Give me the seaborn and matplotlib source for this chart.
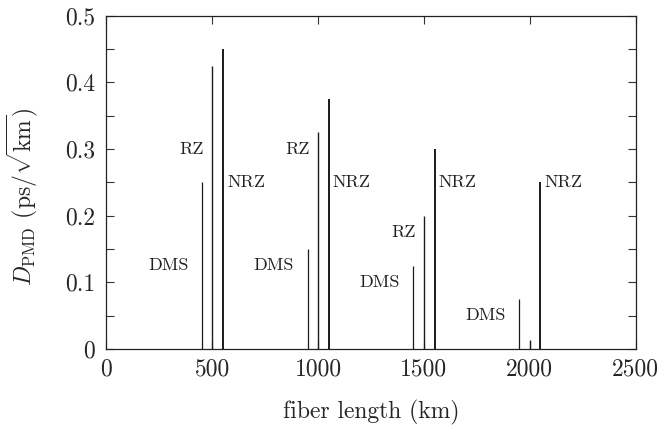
import numpy as np
import pandas as pd
import matplotlib
matplotlib.use("Agg")
import matplotlib.pyplot as plt
from matplotlib.ticker import MultipleLocator, FuncFormatter
import seaborn as sns

# PMD values
lengths = [450, 500, 550, 950, 1000, 1050, 1450, 1500, 1550, 1950, 2000, 2050]
formats = ["DMS", "RZ", "NRZ"] * 4
d_pmd = [0.25, 0.425, 0.45, 0.15, 0.325, 0.375, 0.125, 0.2, 0.3, 0.075, 0.013, 0.25]

# text labels next to the lines
label_x = [388, 462, 572, 887, 962, 1070, 1387, 1463, 1569, 1884, 2070]
label_y = [0.125, 0.3, 0.25, 0.125, 0.3, 0.25, 0.1, 0.175, 0.25, 0.05, 0.25]
label_txt = ["DMS", "RZ", "NRZ", "DMS", "RZ", "NRZ", "DMS", "RZ", "NRZ", "DMS", "NRZ"]

data = pd.DataFrame({"length": lengths, "format": formats, "dpmd": d_pmd})

sns.set_style("ticks")
plt.rcParams["font.family"] = ["cmr10", "DejaVu Serif"]
plt.rcParams["mathtext.fontset"] = "cm"
plt.rcParams["axes.unicode_minus"] = False

fig = plt.figure(figsize=(6.62, 4.34), dpi=100)
ax = fig.add_axes([0.1607, 0.196, 0.7996, 0.768])

widths = {"DMS": 0.9, "RZ": 1.0, "NRZ": 1.4}
for fmt, grp in data.groupby("format"):
    ax.vlines(grp["length"], 0, grp["dpmd"], colors="#1a1a1a", lw=widths[fmt])

for x, y, t in zip(label_x, label_y, label_txt):
    ha = "left" if t == "NRZ" else "right"
    ax.text(x, y, t, ha=ha, va="center", fontsize=13, color="#222222")

ax.set_xlim(0, 2500)
ax.set_ylim(0, 0.5)
ax.xaxis.set_major_locator(MultipleLocator(500))
ax.yaxis.set_major_locator(MultipleLocator(0.1))
ax.yaxis.set_minor_locator(MultipleLocator(0.05))
ax.yaxis.set_major_formatter(FuncFormatter(lambda v, p: "0" if abs(v) < 1e-9 else f"{v:.1f}"))
ax.xaxis.set_major_formatter(FuncFormatter(lambda v, p: f"{int(round(v))}"))

ax.tick_params(which="both", direction="in", top=True, right=True,
               length=5.5, width=0.8, color="#333333", labelsize=17)
ax.tick_params(axis="y", pad=8)
ax.tick_params(axis="x", pad=7)
for s in ax.spines.values():
    s.set_linewidth(0.9)
    s.set_color("#222222")

ax.set_xlabel("fiber length (km)", fontsize=17, labelpad=14)
ax.set_ylabel(r"$D_{\rm PMD}$ (ps/$\sqrt{\rm km}$)", fontsize=17)
ax.yaxis.set_label_coords(-0.125, 0.455)

fig.savefig("out.png", dpi=100)
